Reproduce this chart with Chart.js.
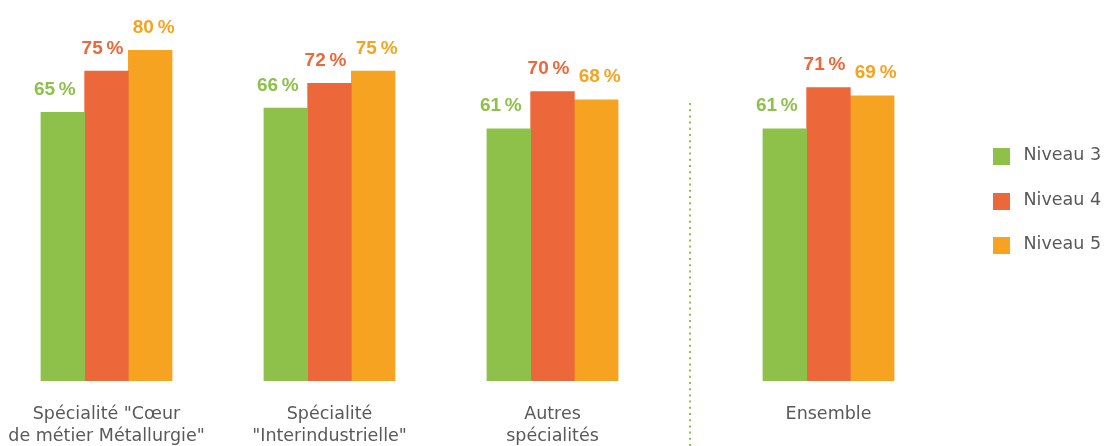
<!DOCTYPE html>
<html>
<head>
<meta charset="utf-8">
<script src="https://cdn.jsdelivr.net/npm/chart.js@4.4.1/dist/chart.umd.min.js"></script>
<style>
  html, body { margin: 0; padding: 0; background: #ffffff; }
  canvas { display: block; }
</style>
</head>
<body>
<canvas id="chart" width="1105" height="446"></canvas>
<script>
// ---- Data ----
const categories = [
  ['Spécialité "Cœur', 'de métier Métallurgie"'],
  ['Spécialité', '"Interindustrielle"'],
  ['Autres', 'spécialités'],
  ['Ensemble']
];
const seriesNames = ['Niveau 3', 'Niveau 4', 'Niveau 5'];
const niveau3 = [65, 66, 61, 61];
const niveau4 = [75, 72, 70, 71];
const niveau5 = [80, 75, 68, 69];

// ---- Styles / layout ----
const seriesColors = ['#8DC14A', '#EC673A', '#F6A321'];
const textColor = '#595959';
const separatorGap = 0.2377;           // extra space before "Ensemble"
const groupPositions = categories.map((c, i) => i + (i === categories.length - 1 ? separatorGap : 0));

const seriesValues = [niveau3, niveau4, niveau5];
const datasets = seriesNames.map((name, s) => ({
  label: name,
  data: seriesValues[s].map((v, i) => ({ x: groupPositions[i], y: v })),
  backgroundColor: seriesColors[s],
  borderWidth: 0,
  barThickness: 43.7
}));

const valueLabels = {
  id: 'valueLabels',
  afterDatasetsDraw(chart, args, opts) {
    const ctx = chart.ctx;
    ctx.save();
    ctx.font = 'bold 19px "Liberation Sans", Arial, sans-serif';
    ctx.textAlign = 'center';
    ctx.textBaseline = 'alphabetic';
    chart.data.datasets.forEach((ds, di) => {
      const meta = chart.getDatasetMeta(di);
      ctx.fillStyle = ds.backgroundColor;
      meta.data.forEach((bar, i) => {
        ctx.fillText(ds.data[i].y + '\u2009%', bar.x + opts.dx[di], bar.y - opts.gap);
      });
    });
    ctx.restore();
  }
};

const separator = {
  id: 'separator',
  afterDraw(chart, args, opts) {
    const ctx = chart.ctx;
    const xs = chart.scales.x;
    const n = groupPositions.length;
    const px = Math.round((xs.getPixelForValue(groupPositions[n - 2]) + xs.getPixelForValue(groupPositions[n - 1])) / 2) - 1;
    ctx.save();
    ctx.strokeStyle = opts.color;
    ctx.lineWidth = 2;
    ctx.setLineDash([2, 4.2]);
    ctx.beginPath();
    ctx.moveTo(px, opts.top);
    ctx.lineTo(px, chart.height);
    ctx.stroke();
    ctx.restore();
  }
};

const sideLegend = {
  id: 'sideLegend',
  afterDraw(chart, args, opts) {
    const ctx = chart.ctx;
    ctx.save();
    ctx.font = '17.5px "DejaVu Sans", sans-serif';
    ctx.textAlign = 'left';
    ctx.textBaseline = 'alphabetic';
    chart.data.datasets.forEach((ds, i) => {
      const top = Math.round(opts.top + i * opts.rowGap);
      ctx.fillStyle = ds.backgroundColor;
      ctx.fillRect(opts.left, top, opts.box, opts.box);
      ctx.fillStyle = opts.color;
      ctx.fillText(ds.label, opts.left + opts.textOffset, top + opts.baseline);
    });
    ctx.restore();
  }
};

new Chart(document.getElementById('chart'), {
  type: 'bar',
  data: { datasets },
  options: {
    responsive: false,
    animation: false,
    devicePixelRatio: 1,
    layout: { padding: { top: 9, right: 125, left: 0, bottom: 0 } },
    plugins: {
      legend: { display: false },
      tooltip: { enabled: false },
      valueLabels: { dx: [-8, -4, 3.5], gap: 17.5 },
      separator: { color: '#8DC14A', top: 103 },
      sideLegend: { left: 993, top: 148, rowGap: 44.5, box: 17, textOffset: 30.5, baseline: 12, color: textColor }
    },
    scales: {
      x: {
        type: 'linear',
        min: -106.5 / 223,
        max: (980 - 106.5) / 223,
        offset: false,
        grid: { display: false, drawTicks: false },
        border: { display: false },
        afterBuildTicks: axis => { axis.ticks = groupPositions.map(v => ({ value: v })); },
        afterFit: axis => {
          axis.height = 65;
          axis.paddingLeft = 0;
          axis.paddingRight = 0;
        },
        ticks: {
          autoSkip: false,
          maxRotation: 0,
          minRotation: 0,
          padding: 22,
          color: textColor,
          font: { family: '"DejaVu Sans", sans-serif', size: 17.5, lineHeight: '22px' },
          callback: (value, index) => categories[index]
        }
      },
      y: {
        display: false,
        min: 0,
        max: 90,
        grid: { display: false }
      }
    }
  },
  plugins: [valueLabels, separator, sideLegend]
});
</script>
</body>
</html>
